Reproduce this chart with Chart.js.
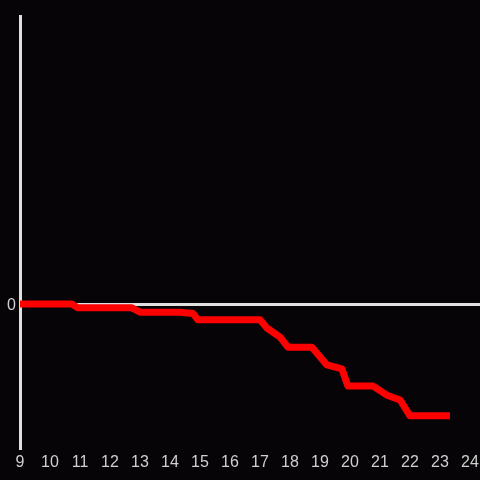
<!DOCTYPE html>
<html>
<head>
<meta charset="utf-8">
<script src="https://cdn.jsdelivr.net/npm/chart.js@4/dist/chart.umd.min.js"></script>
<style>
  html, body { margin: 0; padding: 0; background: #060406; }
  #wrap { width: 480px; height: 480px; }
</style>
</head>
<body>
<div id="wrap"><canvas id="c" width="480" height="480"></canvas></div>
<script>
// Hours (x) and cumulative values (y)
const hours = [9, 10.73, 10.93, 12.73, 13.0, 14.33, 14.77, 14.93, 17.0, 17.23, 17.67, 17.93, 18.73, 19.23, 19.73, 19.93, 20.77, 21.23, 21.67, 22.0, 23.33];
const values = [0, 0, -0.08, -0.08, -0.17, -0.17, -0.2, -0.33, -0.33, -0.5, -0.69, -0.9, -0.9, -1.27, -1.35, -1.71, -1.71, -1.9, -2.0, -2.33, -2.33];
const xTicks = [9, 10, 11, 12, 13, 14, 15, 16, 17, 18, 19, 20, 21, 22, 23, 24];
const yTicks = [0];

const points = hours.map((h, i) => ({ x: h, y: values[i] }));

new Chart(document.getElementById('c'), {
  type: 'line',
  data: {
    datasets: [{
      data: points,
      borderColor: '#ff0000',
      borderWidth: 7,
      pointRadius: 0,
      tension: 0,
      borderJoinStyle: 'round',
      fill: false
    }]
  },
  options: {
    responsive: false,
    animation: false,
    layout: { padding: { top: 16, right: 0, bottom: 0, left: 0 } },
    plugins: { legend: { display: false }, tooltip: { enabled: false } },
    scales: {
      x: {
        type: 'linear',
        min: 9,
        max: 24.333,
        afterBuildTicks: (s) => { s.ticks = xTicks.map(v => ({ value: v })); },
        afterFit: (s) => { s.height = 32; s.paddingLeft = 0; s.paddingRight = 0; },
        ticks: { color: '#d0d0d0', font: { family: 'Liberation Sans, Arial', size: 16 }, padding: 5, maxRotation: 0, autoSkip: false },
        grid: { display: false, drawTicks: false },
        border: { display: false }
      },
      y: {
        min: -3,
        max: 6,
        afterBuildTicks: (s) => { s.ticks = yTicks.map(v => ({ value: v })); },
        afterFit: (s) => { s.width = 20; s.paddingTop = 0; s.paddingBottom = 0; },
        ticks: { color: '#d0d0d0', font: { family: 'Liberation Sans, Arial', size: 16 }, padding: 4, labelOffset: 2 },
        grid: {
          drawTicks: false,
          color: (ctx) => (ctx.tick && ctx.tick.value === 0) ? '#e0e0e0' : 'rgba(0,0,0,0)',
          lineWidth: 3
        },
        border: { display: true, color: '#e0e0e0', width: 3 }
      }
    }
  }
});
</script>
</body>
</html>
